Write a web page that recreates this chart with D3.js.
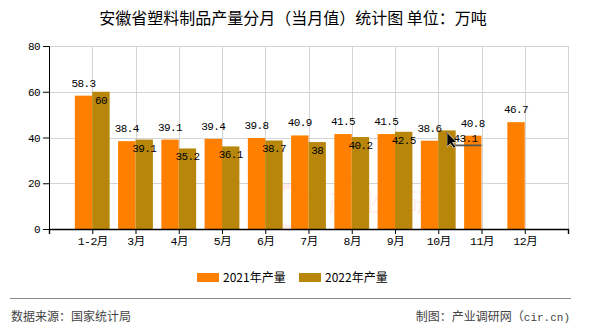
<!DOCTYPE html>
<html>
<head>
<meta charset="utf-8">
<script src="https://cdn.jsdelivr.net/npm/d3@7"></script>
<style>
  html, body { margin: 0; padding: 0; background: #fff; }
  svg { display: block; }
</style>
</head>
<body>
<svg id="chart" width="590" height="330"></svg>
<script>
// Monthly plastic products output, Anhui (10k tonnes)
const categories = ["1-2月", "3月", "4月", "5月", "6月", "7月", "8月", "9月", "10月", "11月", "12月"];
const values2021 = [58.3, 38.4, 39.1, 39.4, 39.8, 40.9, 41.5, 41.5, 38.6, 40.8, 46.7];
const values2022 = [60, 39.1, 35.2, 36.1, 38.7, 38, 40.2, 42.5, 43.1, null, null];
const seriesNames = ["2021年产量", "2022年产量"];
const yTicks = [0, 20, 40, 60, 80];

const colors = ["#ff8000", "#b8860b"];
const monoFont = "'Liberation Mono', 'DejaVu Sans Mono', 'Noto Sans CJK SC', monospace";
const cjkFont = "'Noto Sans CJK SC', 'Liberation Sans', sans-serif";

const svg = d3.select("#chart");
const plotL = 49, plotR = 568, plotT = 46, plotB = 229;

// category slots with one empty slot on each side
const slots = ["_start", ...categories, "_end"];
const x = d3.scalePoint().domain(slots).range([plotL, plotR]);
const y = d3.scaleLinear().domain([0, 80]).range([plotB, plotT]);
const barW = 17.4;

// title
svg.append("text")
  .attr("x", 293).attr("y", 24)
  .attr("text-anchor", "middle")
  .attr("font-family", cjkFont)
  .attr("font-size", 16)
  .attr("fill", "#000")
  .text("安徽省塑料制品产量分月（当月值）统计图 单位：万吨");

// grid
const grid = svg.append("g").attr("stroke", "#d4d4d4").attr("stroke-width", 1);
yTicks.filter(t => t > 0).forEach(t => {
  grid.append("line").attr("x1", plotL).attr("x2", plotR)
    .attr("y1", Math.round(y(t)) + 0.5).attr("y2", Math.round(y(t)) + 0.5);
});
[...categories, "_end"].forEach(c => {
  const px = Math.round(x(c)) + 0.5;
  grid.append("line").attr("x1", px).attr("x2", px).attr("y1", plotT).attr("y2", plotB);
});

// faint watermark
const wm = svg.append("g").attr("opacity", 0.3);
wm.append("circle").attr("cx", 291).attr("cy", 207).attr("r", 21)
  .attr("fill", "none").attr("stroke", "#ffc8c0").attr("stroke-width", 6);
wm.append("text").attr("x", 328).attr("y", 212)
  .attr("font-family", cjkFont).attr("font-size", 26).attr("fill", "#ffc8c0")
  .text("产业调研网");
wm.append("text").attr("x", 335).attr("y", 228)
  .attr("font-family", monoFont).attr("font-size", 10).attr("fill", "#ffc8c0")
  .attr("letter-spacing", 6)
  .text("www.cir.cn");

// bars
const series = [values2021, values2022];
series.forEach((vals, s) => {
  svg.append("g").selectAll("rect")
    .data(vals.map((v, i) => ({ c: categories[i], v })).filter(d => d.v != null))
    .join("rect")
    .attr("x", d => x(d.c) - barW + s * barW)
    .attr("width", barW)
    .attr("y", d => y(d.v))
    .attr("height", d => y(0) - y(d.v))
    .attr("fill", colors[s]);
});

// value labels
const labelG = svg.append("g")
  .attr("font-family", monoFont)
  .attr("font-size", 11)
  .attr("letter-spacing", -0.6)
  .attr("fill", "#000")
  .attr("text-anchor", "middle");

values2021.forEach((v, i) => {
  labelG.append("text")
    .attr("x", x(categories[i]) - barW / 2)
    .attr("y", y(v) - 9)
    .text(v);
});

// label nudged sideways where it would sit on a neighbouring label
const nudged = { "10月": 18.5 };
svg.append("defs").append("marker")
  .attr("id", "pointer").attr("viewBox", "0 0 10 14")
  .attr("refX", 0).attr("refY", 0)
  .attr("markerWidth", 7).attr("markerHeight", 10)
  .attr("orient", "0")
  .append("path").attr("d", "M0,0 L0,13 L3,10 L6,14 L8,13 L5,9 L9,9 Z")
  .attr("fill", "#000").attr("stroke", "#fff").attr("stroke-width", 0.6);

values2022.forEach((v, i) => {
  if (v == null) return;
  const c = categories[i];
  const bx = x(c) + barW / 2;
  const dx = nudged[c] || 0;
  if (dx) {
    const ly = y(v) + 15;
    svg.append("path")
      .attr("d", d3.line()([[bx, y(v) + 2], [bx + 5, ly], [bx + dx + 16, ly]]))
      .attr("fill", "none").attr("stroke", "#555").attr("stroke-width", 1.6)
      .attr("marker-start", "url(#pointer)");
  }
  labelG.append("text")
    .attr("x", bx + dx)
    .attr("y", y(v) + 12)
    .text(v);
});

// axes
const yAxis = d3.axisLeft(y).tickValues(yTicks).tickSize(6).tickPadding(3);
const gy = svg.append("g").attr("transform", `translate(${plotL},0)`).call(yAxis);
gy.select(".domain").attr("stroke", "#000");
gy.selectAll("text").attr("font-family", monoFont).attr("font-size", 11)
  .attr("letter-spacing", -0.6).attr("fill", "#000");

const xAxis = d3.axisBottom(x).tickSize(5).tickPadding(3)
  .tickFormat(d => d.startsWith("_") ? "" : d);
const gx = svg.append("g").attr("transform", `translate(0,${plotB})`).call(xAxis);
gx.select(".domain").attr("stroke", "#000").attr("stroke-width", 1.4);
gx.selectAll(".tick line").attr("stroke", "#000");
gx.selectAll("text").attr("font-family", monoFont).attr("font-size", 11.5)
  .attr("letter-spacing", -0.5).attr("fill", "#000");

// legend
const legend = svg.append("g").attr("font-family", cjkFont).attr("font-size", 12);
const legendX = [197, 299];
seriesNames.forEach((n, s) => {
  legend.append("rect").attr("x", legendX[s]).attr("y", 273)
    .attr("width", 22).attr("height", 9).attr("fill", colors[s]);
  legend.append("text").attr("x", legendX[s] + 26).attr("y", 282)
    .attr("fill", "#000").text(n);
});

// footer
svg.append("line").attr("x1", 10).attr("x2", 571).attr("y1", 298.5).attr("y2", 298.5)
  .attr("stroke", "#888").attr("stroke-width", 1.2);
svg.append("text").attr("x", 11).attr("y", 321)
  .attr("font-family", cjkFont).attr("font-size", 12).attr("fill", "#444")
  .text("数据来源：国家统计局");
const credit = svg.append("text").attr("x", 570).attr("y", 321).attr("text-anchor", "end")
  .attr("font-family", cjkFont).attr("font-size", 12).attr("fill", "#444");
credit.append("tspan").text("制图：产业调研网（");
credit.append("tspan").attr("font-family", monoFont).attr("font-size", 11).text("cir.cn)");
</script>
</body>
</html>
